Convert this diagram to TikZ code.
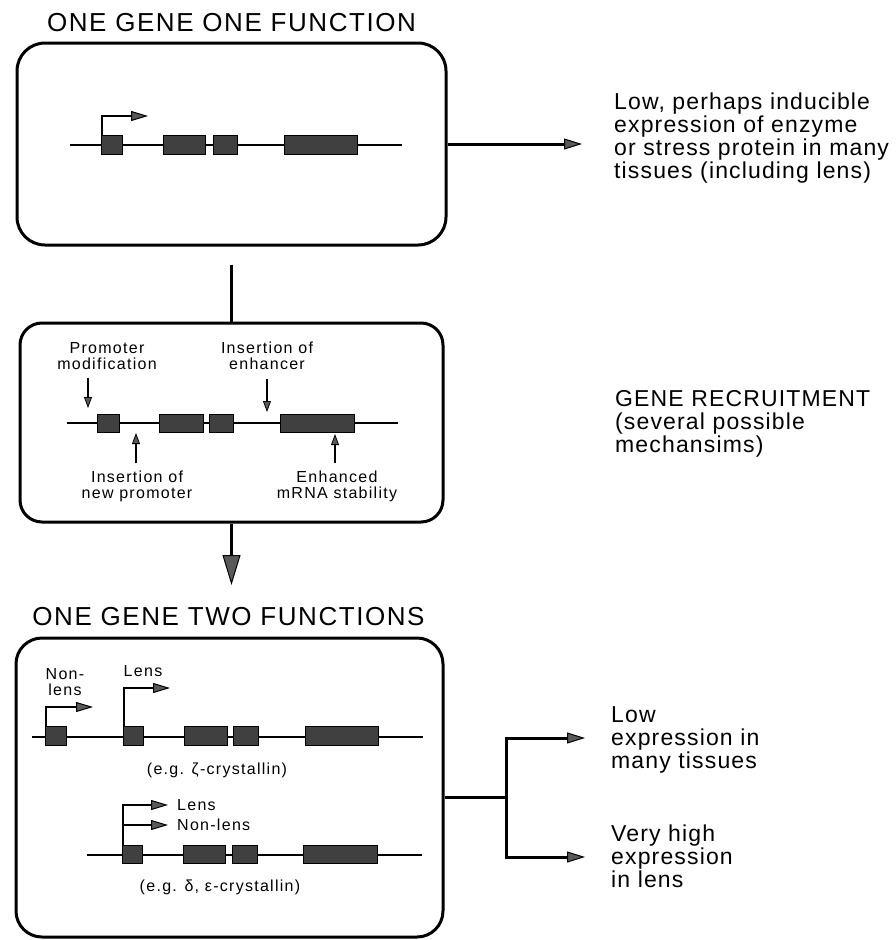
\documentclass[tikz,border=0pt]{standalone}
\usepackage{fontspec}
\setmainfont{Liberation Sans}
\newfontfamily\bodyfont[LetterSpace=5]{Liberation Sans}
\newfontfamily\titlefont[LetterSpace=6]{Liberation Sans}
\newfontfamily\smallfont[LetterSpace=8]{Liberation Sans}
\usetikzlibrary{arrows.meta,calc}
\begin{document}
\begin{tikzpicture}[x=1pt,y=-1pt,
  box/.style={draw,line width=3pt,inner sep=0pt},
  exon/.style={draw,line width=1pt,fill=black!75,inner sep=0pt,minimum height=19pt},
  gline/.style={line width=2.6pt},
  pline/.style={line width=2pt},
  conn/.style={line width=3pt},
  bigtip/.style={-{Triangle[length=18pt,width=11pt,fill=black!65,line width=1pt]}},
  ptip/.style={-{Triangle[length=17pt,width=10pt,fill=black!65,line width=1pt]}},
  downtip/.style={-{Triangle[length=30pt,width=18pt,fill=black!65,line width=1pt]}},
  instip/.style={line width=2pt,-{Triangle[length=11pt,width=8pt,fill=black!65,line width=0.8pt]}},
  title/.style={font=\titlefont\fontsize{26pt}{26pt}\selectfont,inner sep=0pt},
  bodytxt/.style={font=\bodyfont\fontsize{23pt}{23pt}\selectfont,align=left,inner sep=0pt,anchor=west},
  small/.style={font=\smallfont\fontsize{16pt}{16pt}\selectfont,align=center,inner sep=0pt}
]
\useasboundingbox (0,0) rectangle (896,940);

%% ---------- Box 1 ----------
\node[title] (t1) at (231.5,22.5) {ONE GENE ONE FUNCTION};
\node[box,rounded corners=28pt,minimum width=429pt,minimum height=202pt] (b1) at (231.5,144) {};
\coordinate (g1s) at (70,145);
\coordinate (g1e) at (402,145);
\draw[gline] (g1s) -- (g1e);
\node[exon,minimum width=21pt] (e11) at (111.5,144.5) {};
\node[exon,minimum width=42pt] (e12) at (184,144.5) {};
\node[exon,minimum width=24pt] (e13) at (225,144.5) {};
\node[exon,minimum width=73pt] (e14) at (320.5,144.5) {};
\coordinate (p1) at (148,116);
\draw[pline,ptip] ([xshift=1pt]e11.north west) |- (p1);

\node[bodytxt] (d1) at (614,138) {Low, perhaps inducible\\expression of enzyme\\or stress protein in many\\tissues (including lens)};
\draw[conn,bigtip] (b1.east) -- ([xshift=-32pt]d1.west |- b1.east);

\draw[conn] ([yshift=-18pt]b1.south) -- (b1.south |- 0,323);

%% ---------- Box 2 ----------
\node[box,rounded corners=22pt,minimum width=423pt,minimum height=199pt] (b2) at (231.5,422.5) {};
\coordinate (g2s) at (67,423);
\coordinate (g2e) at (398,423);
\draw[gline] (g2s) -- (g2e);
\node[exon,minimum width=22pt,minimum height=18pt] (e21) at (108,423) {};
\node[exon,minimum width=44pt,minimum height=18pt] (e22) at (181,423) {};
\node[exon,minimum width=24pt,minimum height=18pt] (e23) at (221,423) {};
\node[exon,minimum width=74pt,minimum height=18pt] (e24) at (317,423) {};

\node[small] (pm) at (107,356) {Promoter\\modification};
\node[small] (ie) at (267,356) {Insertion of\\enhancer};
\node[small] (np) at (137,486) {Insertion of\\new promoter};
\node[small] (ms) at (337,486) {Enhanced\\mRNA stability};
\coordinate (pmt) at (88,408);
\coordinate (iet) at (267,412);
\coordinate (npt) at (136,433);
\coordinate (mst) at (335,434);
\draw[instip] ([yshift=-8pt]pm.south -| pmt) -- (pmt);
\draw[instip] ([yshift=-9pt]ie.south -| iet) -- (iet);
\draw[instip] ([yshift=7pt]np.north -| npt) -- (npt);
\draw[instip] ([yshift=7pt]ms.north -| mst) -- (mst);

\node[bodytxt] (d2) at (615,424) {GENE RECRUITMENT\\(several possible\\mechansims)};

\coordinate (a2) at (231.5,585);
\draw[conn,downtip] (b2.south) -- (a2);

%% ---------- Box 3 ----------
\node[title] (t2) at (228.5,617) {ONE GENE TWO FUNCTIONS};
\node[box,rounded corners=26pt,minimum width=427pt,minimum height=299pt] (b3) at (229.5,787.5) {};

% gene with two promoters
\coordinate (g3s) at (32,737);
\coordinate (g3e) at (423,737);
\draw[gline] (g3s) -- (g3e);
\node[exon,minimum width=21pt] (e31) at (55.5,735.5) {};
\node[exon,minimum width=20pt] (e32) at (133,735.5) {};
\node[exon,minimum width=43pt] (e33) at (205.5,735.5) {};
\node[exon,minimum width=25pt] (e34) at (245.5,735.5) {};
\node[exon,minimum width=73pt] (e35) at (341.5,735.5) {};
\coordinate (p31) at (93,707);
\coordinate (p32) at (170,688);
\draw[pline,ptip] ([xshift=1pt]e31.north west) |- (p31);
\draw[pline,ptip] ([xshift=1pt]e32.north west) |- (p32);
\node[small] (nl1) at (65,682) {Non-\\lens};
\node[small] (ln1) at (143,671) {Lens};
\node[small] (ex1) at (217,770) {(e.g. ζ-crystallin)};

% gene with one promoter, two uses
\coordinate (g4s) at (87,855);
\coordinate (g4e) at (422,855);
\draw[gline] (g4s) -- (g4e);
\node[exon,minimum width=20pt,minimum height=18pt] (e41) at (132,854) {};
\node[exon,minimum width=42pt,minimum height=18pt] (e42) at (204,854) {};
\node[exon,minimum width=25pt,minimum height=18pt] (e43) at (244.5,854) {};
\node[exon,minimum width=74pt,minimum height=18pt] (e44) at (340,854) {};
\node[small,anchor=west] (ln2) at (177,805) {Lens};
\node[small,anchor=west] (nl2) at (177,825) {Non-lens};
\coordinate (v2) at (123,825);
\draw[pline,ptip] ([xshift=1pt]e41.north west) |- ([xshift=-9pt]ln2.west);
\draw[pline,ptip] (v2) -- ([xshift=-9pt]nl2.west |- v2);
\node[small] (ex2) at (220,887) {(e.g. δ, ε-crystallin)};

% outputs
\node[bodytxt] (d3) at (611,740) {Low\\expression in\\many tissues};
\node[bodytxt] (d4) at (611,856) {Very high\\expression\\in lens};
\coordinate (br) at (506,797);
\coordinate (a3) at (585,738);
\coordinate (a4) at (585,857);
\draw[conn] (b3.east |- br) -- (br);
\draw[conn,bigtip] ([yshift=-1.5pt]br) |- (a3);
\draw[conn,bigtip] ([yshift=1.5pt]br) |- (a4);
\end{tikzpicture}
\end{document}
